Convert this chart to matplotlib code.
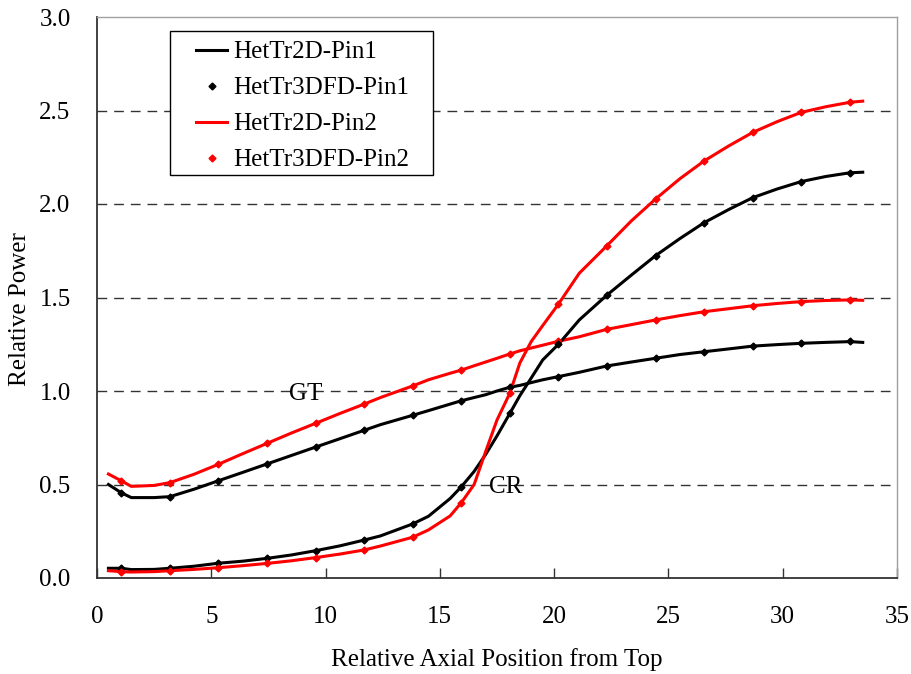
import numpy as np
import matplotlib
matplotlib.use('Agg')
import matplotlib.pyplot as plt
from matplotlib.patches import Rectangle

plt.rcParams['font.family'] = ['Liberation Serif', 'DejaVu Serif']
plt.rcParams['font.size'] = 18

# axial nodes of the 2D solution
x_line = [0.5, 1.06, 1.5, 2.5, 3.19, 4.25, 5.31, 6.38, 7.44, 8.5, 9.56, 10.63,
          11.69, 12.4, 13.81, 14.5, 15.45, 15.94, 16.5, 17.0, 17.5, 18.06, 18.5,
          19.0, 19.5, 20.19, 21.1, 22.31, 23.38, 24.44, 25.5, 26.56, 27.63,
          28.69, 29.75, 30.81, 31.88, 32.94, 33.5]

# GT case
gt_pin1_2d = [0.50, 0.456, 0.43, 0.43, 0.435, 0.475, 0.52, 0.565, 0.61, 0.655, 0.70, 0.745,
              0.79, 0.82, 0.87, 0.895, 0.93, 0.948, 0.965, 0.98, 1.0, 1.02, 1.03,
              1.045, 1.06, 1.077, 1.10, 1.134, 1.155, 1.175, 1.195, 1.21, 1.225,
              1.24, 1.248, 1.255, 1.26, 1.264, 1.26]
gt_pin2_2d = [0.556, 0.52, 0.49, 0.495, 0.51, 0.555, 0.608, 0.665, 0.72, 0.775, 0.827, 0.88,
              0.93, 0.965, 1.027, 1.06, 1.095, 1.112, 1.135, 1.155, 1.175, 1.198, 1.215,
              1.23, 1.245, 1.266, 1.29, 1.33, 1.355, 1.38, 1.403, 1.424, 1.44,
              1.456, 1.468, 1.478, 1.484, 1.487, 1.485]
# CR case
cr_pin1_2d = [0.052, 0.052, 0.045, 0.046, 0.052, 0.063, 0.079, 0.09, 0.105, 0.123, 0.146, 0.172,
              0.203, 0.225, 0.289, 0.33, 0.425, 0.488, 0.57, 0.66, 0.76, 0.88, 0.975,
              1.07, 1.166, 1.25, 1.38, 1.513, 1.62, 1.724, 1.815, 1.90, 1.97,
              2.034, 2.08, 2.12, 2.147, 2.167, 2.17]
cr_pin2_2d = [0.039, 0.034, 0.032, 0.034, 0.039, 0.046, 0.055, 0.066, 0.078, 0.092, 0.109, 0.128,
              0.15, 0.171, 0.218, 0.257, 0.332, 0.403, 0.50, 0.675, 0.845, 0.988, 1.15,
              1.265, 1.35, 1.465, 1.63, 1.777, 1.91, 2.027, 2.135, 2.23, 2.31,
              2.383, 2.44, 2.49, 2.52, 2.544, 2.55]

# 3D FD reference points
x_pts = [1.06, 3.19, 5.31, 7.44, 9.56, 11.69, 13.81, 15.94, 18.06, 20.19,
         22.31, 24.44, 26.56, 28.69, 30.81, 32.94]
gt_pin1_3d = [0.456, 0.435, 0.52, 0.61, 0.70, 0.79, 0.87, 0.948, 1.02, 1.077,
              1.134, 1.175, 1.21, 1.24, 1.255, 1.266]
gt_pin2_3d = [0.52, 0.51, 0.608, 0.72, 0.827, 0.93, 1.027, 1.112, 1.198, 1.266,
              1.33, 1.38, 1.424, 1.456, 1.478, 1.489]
cr_pin1_3d = [0.055, 0.052, 0.079, 0.105, 0.146, 0.203, 0.289, 0.488, 0.88, 1.25,
              1.513, 1.724, 1.90, 2.034, 2.12, 2.167]
cr_pin2_3d = [0.034, 0.039, 0.055, 0.078, 0.109, 0.15, 0.218, 0.403, 0.988, 1.465,
              1.777, 2.027, 2.23, 2.383, 2.49, 2.546]

fig = plt.figure(figsize=(9.12, 6.74), dpi=100)
ax = fig.add_axes([97/912, 1-578/674, 800/912, 561/674])

for yy in [0.5, 1.0, 1.5, 2.0, 2.5]:
    ax.axhline(yy, color='#333333', lw=1, ls=(0, (7, 5)), zorder=1)

ax.plot(x_line, gt_pin1_2d, '-', color='black', lw=2.2, zorder=3, label='HetTr2D-Pin1')
ax.plot(x_pts, gt_pin1_3d, 'D', color='black', ms=3.5, zorder=4, label='HetTr3DFD-Pin1')
ax.plot(x_line, gt_pin2_2d, '-', color='red', lw=2.2, zorder=3, label='HetTr2D-Pin2')
ax.plot(x_pts, gt_pin2_3d, 'D', color='red', ms=3.5, zorder=4, label='HetTr3DFD-Pin2')
ax.plot(x_line, cr_pin1_2d, '-', color='black', lw=2.2, zorder=3)
ax.plot(x_pts, cr_pin1_3d, 'D', color='black', ms=3.5, zorder=4)
ax.plot(x_line, cr_pin2_2d, '-', color='red', lw=2.2, zorder=3)
ax.plot(x_pts, cr_pin2_3d, 'D', color='red', ms=3.5, zorder=4)

ax.text(9.15, 0.985, 'GT', ha='center', va='center', zorder=5)
ax.text(17.9, 0.485, 'CR', ha='center', va='center', zorder=5)

ax.set_xlim(0, 35)
ax.set_ylim(0, 3.0)
ax.set_xticks(np.arange(0, 36, 5))
ax.set_yticks(np.arange(0, 3.01, 0.5))
ax.set_yticklabels(['%.1f' % v for v in np.arange(0, 3.01, 0.5)])
ax.tick_params(axis='x', direction='in', length=7, width=1, pad=20, color='#333333')
ax.tick_params(axis='y', length=0, pad=19)

for s in ['left', 'bottom']:
    ax.spines[s].set_color('#333333')
    ax.spines[s].set_linewidth(1.3)
for s in ['top', 'right']:
    ax.spines[s].set_color('#a0a0a0')
    ax.spines[s].set_linewidth(1.0)

ax.set_xlabel('Relative Axial Position from Top')
ax.set_ylabel('Relative Power')
ax.xaxis.set_label_coords(0.5, -0.125)
ax.yaxis.set_label_coords(-0.083, 0.48)

# legend box
ax.add_patch(Rectangle((73/800, (578-175)/561), 263/800, 144/561,
                       transform=ax.transAxes, fill=True, facecolor='white',
                       edgecolor='black', lw=1, zorder=6))
leg = ax.legend(loc='upper left', bbox_to_anchor=(99/800, (578-41)/561),
                frameon=False, borderpad=0, borderaxespad=0, labelspacing=0.54,
                handlelength=1.25, handletextpad=0.25, fontsize=18)
leg.set_zorder(7)

fig.savefig('out.png', dpi=100)
